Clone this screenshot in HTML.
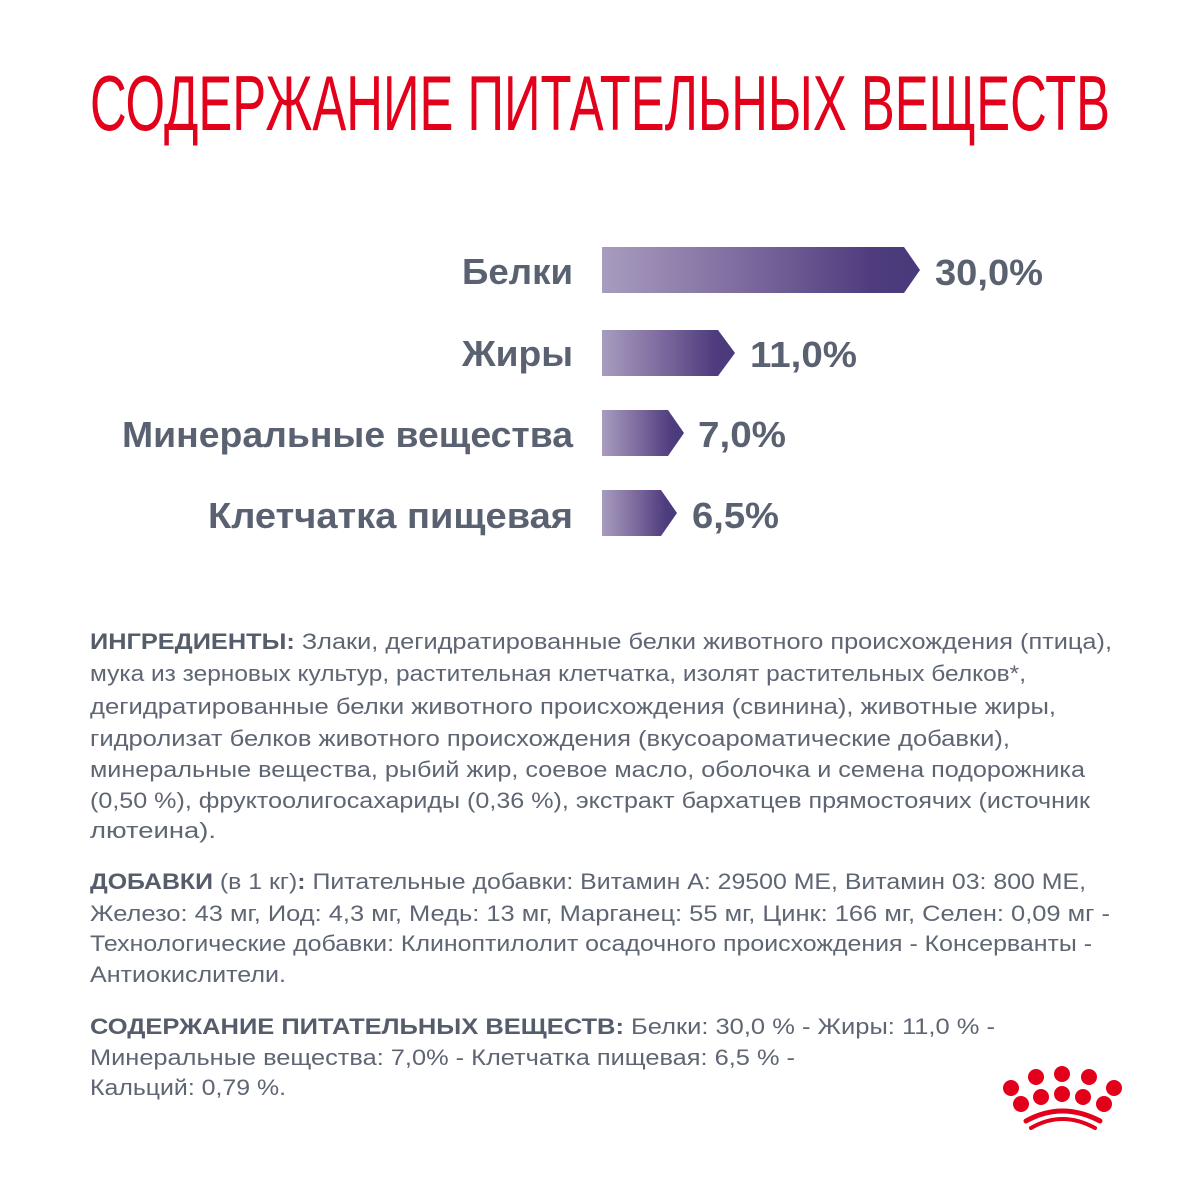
<!DOCTYPE html>
<html><head><meta charset="utf-8"><style>
html,body{margin:0;padding:0;background:#fff;}
svg{display:block;}
text{font-family:"Liberation Sans",sans-serif;}
.lab{font-weight:bold;font-size:36px;fill:#5a6272;}
.b{font-size:22px;fill:#5f6673;}
.h{font-weight:bold;fill:#555d6b;}
</style></head><body>
<svg width="1200" height="1200" viewBox="0 0 1200 1200">
<defs>
<linearGradient id="g" x1="0" x2="1" y1="0" y2="0">
<stop offset="0" stop-color="#a89cbe"/><stop offset="0.45" stop-color="#7c6a9e"/><stop offset="0.85" stop-color="#4e3c7e"/><stop offset="1" stop-color="#4a3a7a"/>
</linearGradient>
</defs>
<text x="90" y="130" font-size="78" fill="#e2001a" textLength="1020" lengthAdjust="spacingAndGlyphs">СОДЕРЖАНИЕ ПИТАТЕЛЬНЫХ ВЕЩЕСТВ</text>

<polygon points="602,247 904,247 920,270 904,293 602,293" fill="url(#g)"/>
<polygon points="602,330 718,330 735,353 718,376 602,376" fill="url(#g)"/>
<polygon points="602,410 668,410 684,433 668,456 602,456" fill="url(#g)"/>
<polygon points="602,490 661,490 677,513 661,536 602,536" fill="url(#g)"/>

<text class="lab" x="462" y="284" textLength="111" lengthAdjust="spacingAndGlyphs">Белки</text>
<text class="lab" x="462" y="366" textLength="111" lengthAdjust="spacingAndGlyphs">Жиры</text>
<text class="lab" x="122" y="447" textLength="451" lengthAdjust="spacingAndGlyphs">Минеральные вещества</text>
<text class="lab" x="208" y="528" textLength="365" lengthAdjust="spacingAndGlyphs">Клетчатка пищевая</text>

<text class="lab" x="935" y="285" textLength="108" lengthAdjust="spacingAndGlyphs">30,0%</text>
<text class="lab" x="750" y="367" textLength="107" lengthAdjust="spacingAndGlyphs">11,0%</text>
<text class="lab" x="698" y="447" textLength="88" lengthAdjust="spacingAndGlyphs">7,0%</text>
<text class="lab" x="692" y="528" textLength="87" lengthAdjust="spacingAndGlyphs">6,5%</text>

<g class="b">
<text class="b" x="90" y="649" textLength="1022" lengthAdjust="spacingAndGlyphs"><tspan class="h">ИНГРЕДИЕНТЫ:</tspan> Злаки, дегидратированные белки животного происхождения (птица),</text>
<text class="b" x="90" y="681" textLength="936" lengthAdjust="spacingAndGlyphs">мука из зерновых культур, растительная клетчатка, изолят растительных белков*,</text>
<text class="b" x="90" y="714" textLength="966" lengthAdjust="spacingAndGlyphs">дегидратированные белки животного происхождения (свинина), животные жиры,</text>
<text class="b" x="90" y="746" textLength="920" lengthAdjust="spacingAndGlyphs">гидролизат белков животного происхождения (вкусоароматические добавки),</text>
<text class="b" x="90" y="777" textLength="995" lengthAdjust="spacingAndGlyphs">минеральные вещества, рыбий жир, соевое масло, оболочка и семена подорожника</text>
<text class="b" x="90" y="808" textLength="1000" lengthAdjust="spacingAndGlyphs">(0,50 %), фруктоолигосахариды (0,36 %), экстракт бархатцев прямостоячих (источник</text>
<text class="b" x="90" y="838" textLength="126" lengthAdjust="spacingAndGlyphs">лютеина).</text>

<text class="b" x="90" y="889" textLength="996" lengthAdjust="spacingAndGlyphs"><tspan class="h">ДОБАВКИ</tspan> (в 1 кг)<tspan class="h">:</tspan> Питательные добавки: Витамин A: 29500 МЕ, Витамин 03: 800 МЕ,</text>
<text class="b" x="90" y="921" textLength="1020" lengthAdjust="spacingAndGlyphs">Железо: 43 мг, Иод: 4,3 мг, Медь: 13 мг, Марганец: 55 мг, Цинк: 166 мг, Селен: 0,09 мг -</text>
<text class="b" x="90" y="951" textLength="1002" lengthAdjust="spacingAndGlyphs">Технологические добавки: Клиноптилолит осадочного происхождения - Консерванты -</text>
<text class="b" x="90" y="982" textLength="196" lengthAdjust="spacingAndGlyphs">Антиокислители.</text>

<text class="b" x="90" y="1034" textLength="905" lengthAdjust="spacingAndGlyphs"><tspan class="h">СОДЕРЖАНИЕ ПИТАТЕЛЬНЫХ ВЕЩЕСТВ:</tspan> Белки: 30,0 % - Жиры: 11,0 % -</text>
<text class="b" x="90" y="1065" textLength="705" lengthAdjust="spacingAndGlyphs">Минеральные вещества: 7,0% - Клетчатка пищевая: 6,5 % -</text>
<text class="b" x="90" y="1095" textLength="196" lengthAdjust="spacingAndGlyphs">Кальций: 0,79 %.</text>
</g>

<g fill="#e2001a">
<circle cx="1011" cy="1088" r="8"/><circle cx="1036" cy="1077" r="8"/><circle cx="1062" cy="1074" r="8"/><circle cx="1089" cy="1077" r="8"/><circle cx="1114" cy="1088" r="8"/>
<circle cx="1021" cy="1104" r="8"/><circle cx="1041" cy="1097" r="8"/><circle cx="1062" cy="1094" r="8"/><circle cx="1083" cy="1097" r="8"/><circle cx="1104" cy="1104" r="8"/>
</g>
<g fill="none" stroke="#e2001a" stroke-linecap="round">
<path d="M1026,1121 Q1062,1101 1100,1121" stroke-width="5"/>
<path d="M1031,1128 Q1062,1110 1095,1128" stroke-width="4"/>
</g>
</svg>
</body></html>
